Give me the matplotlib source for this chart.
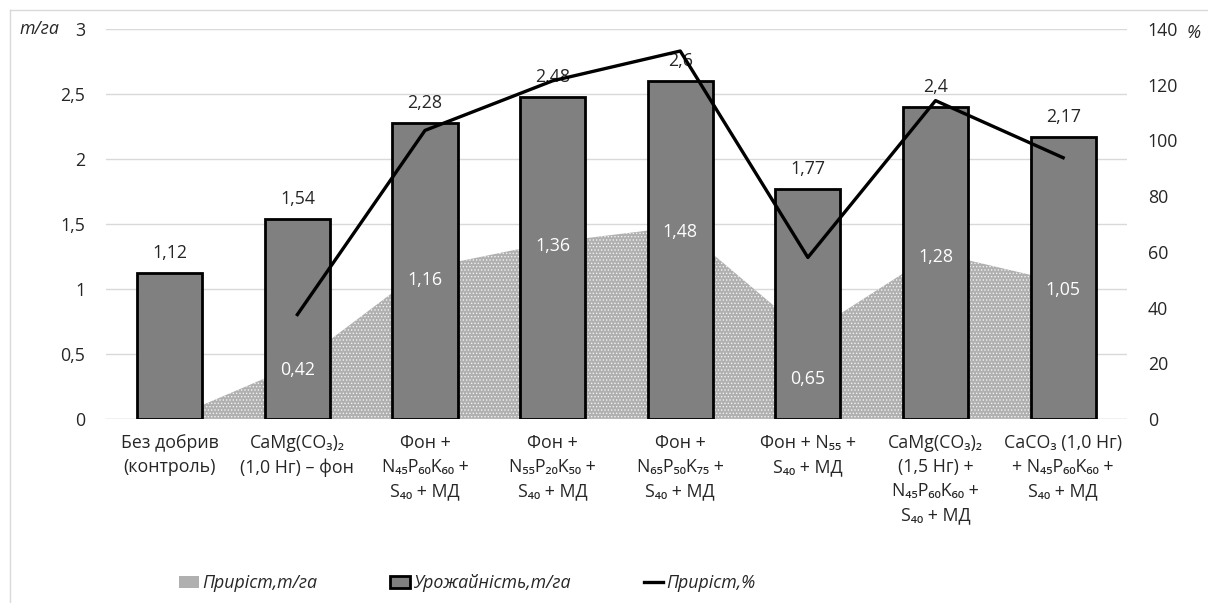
import numpy as np
import matplotlib
matplotlib.use("Agg")
import matplotlib.pyplot as plt
from matplotlib.patches import Patch
from matplotlib.lines import Line2D

plt.rcParams['font.family'] = ['Open Sans', 'DejaVu Sans']
plt.rcParams['hatch.color'] = '#f2f2f2'
plt.rcParams['hatch.linewidth'] = 0.6

categories = [
    "Без добрив\n(контроль)",
    "CaMg(CO₃)₂\n(1,0 Нг) – фон",
    "Фон +\nN₄₅P₆₀K₆₀ +\nS₄₀ + МД",
    "Фон +\nN₅₅P₂₀K₅₀ +\nS₄₀ + МД",
    "Фон +\nN₆₅P₅₀K₇₅ +\nS₄₀ + МД",
    "Фон + N₅₅ +\nS₄₀ + МД",
    "CaMg(CO₃)₂\n(1,5 Нг) +\nN₄₅P₆₀K₆₀ +\nS₄₀ + МД",
    "CaCO₃ (1,0 Нг)\n+ N₄₅P₆₀K₆₀ +\nS₄₀ + МД",
]
yield_t = [1.12, 1.54, 2.28, 2.48, 2.60, 1.77, 2.40, 2.17]
gain_t = [0.0, 0.42, 1.16, 1.36, 1.48, 0.65, 1.28, 1.05]
gain_pct = [np.nan, 37.5, 103.6, 121.4, 132.1, 58.0, 114.3, 93.8]

# vertical shift of the in-bar gain labels (t/ha)
gain_label_shift = [0, -0.04, -0.09, -0.03, -0.04, -0.34, -0.03, -0.06]

FS = 12.8
TXT = '#262626'


def fmt(v):
    s = f"{v:.2f}".rstrip('0').rstrip('.')
    return s.replace('.', ',')


fig = plt.figure(figsize=(12.08, 6.03), dpi=100)
ax = fig.add_axes([0.0877, 0.3051, 0.8452, 0.6468])
ax2 = ax.twinx()

x = np.arange(len(categories))

ax.set_zorder(1)
ax2.set_zorder(2)
ax.patch.set_visible(False)

# gain area behind the bars
ax.fill_between(x, 0, gain_t, facecolor='#b0b0b0', hatch='.....',
                edgecolor='none', linewidth=0, zorder=1)
ax.bar(x, yield_t, width=0.51, color='#808080', edgecolor='black',
       linewidth=2.0, zorder=3)

for xi, v in zip(x, yield_t):
    ax.text(xi, v + 0.085, fmt(v), ha='center', va='bottom',
            fontsize=FS, color=TXT, zorder=5)
for xi, v, s in zip(x, gain_t, gain_label_shift):
    if v > 0:
        ax.text(xi, v + s, fmt(v), ha='center', va='center',
                fontsize=FS, color='white', zorder=5)

ax2.plot(x, gain_pct, color='black', linewidth=2.4, zorder=6)

ax.set_xlim(-0.5, len(categories) - 0.5)
ax.set_ylim(0, 3)
ax.set_yticks([0, 0.5, 1, 1.5, 2, 2.5, 3])
ax.set_yticklabels(['0', '0,5', '1', '1,5', '2', '2,5', '3'])
ax2.set_ylim(0, 140)
ax2.set_yticks(range(0, 141, 20))

ax.yaxis.grid(True, color='#d9d9d9', linewidth=1.0, zorder=0)
ax.set_axisbelow(True)
ax.set_xticks(x)
ax.set_xticklabels(categories, fontsize=FS, color=TXT, linespacing=1.42,
                   va='top')
ax.tick_params(axis='x', length=0, pad=11)
ax.tick_params(axis='y', length=0, labelsize=FS, labelcolor=TXT, pad=15)
ax2.tick_params(axis='y', length=0, labelsize=FS, labelcolor=TXT, pad=15)

for a in (ax, ax2):
    for side in ('top', 'left', 'right', 'bottom'):
        a.spines[side].set_visible(False)
ax.axhline(0, color='#d9d9d9', linewidth=1.0, zorder=2)

fig.text(0.0165, 0.952, 'т/га', fontsize=FS, style='italic', color=TXT,
         va='center', ha='left')
fig.text(0.982, 0.945, '%', fontsize=FS, style='italic', color=TXT,
         va='center', ha='left')

# chart frame
fig.add_artist(Line2D([0.0083, 1.0], [0.9834, 0.9834], transform=fig.transFigure,
                      color='#d9d9d9', linewidth=1.0))
fig.add_artist(Line2D([0.0083, 0.0083], [0.0, 0.9834], transform=fig.transFigure,
                      color='#d9d9d9', linewidth=1.0))

handles = [
    Patch(facecolor='#b0b0b0', hatch='.....', edgecolor='none'),
    Patch(facecolor='#808080', edgecolor='black', linewidth=2.0),
    Line2D([0], [0], color='black', linewidth=2.4),
]
labels = ['Приріст,т/га', 'Урожайність,т/га', 'Приріст,%']
leg = fig.legend(handles, labels, loc='center left', bbox_to_anchor=(0.135, 0.033),
                 ncol=3, frameon=False, handlelength=1.1, handletextpad=0.2,
                 columnspacing=4.1, prop={'style': 'italic', 'size': FS})
for t in leg.get_texts():
    t.set_color(TXT)

fig.savefig('out.png', dpi=100)
